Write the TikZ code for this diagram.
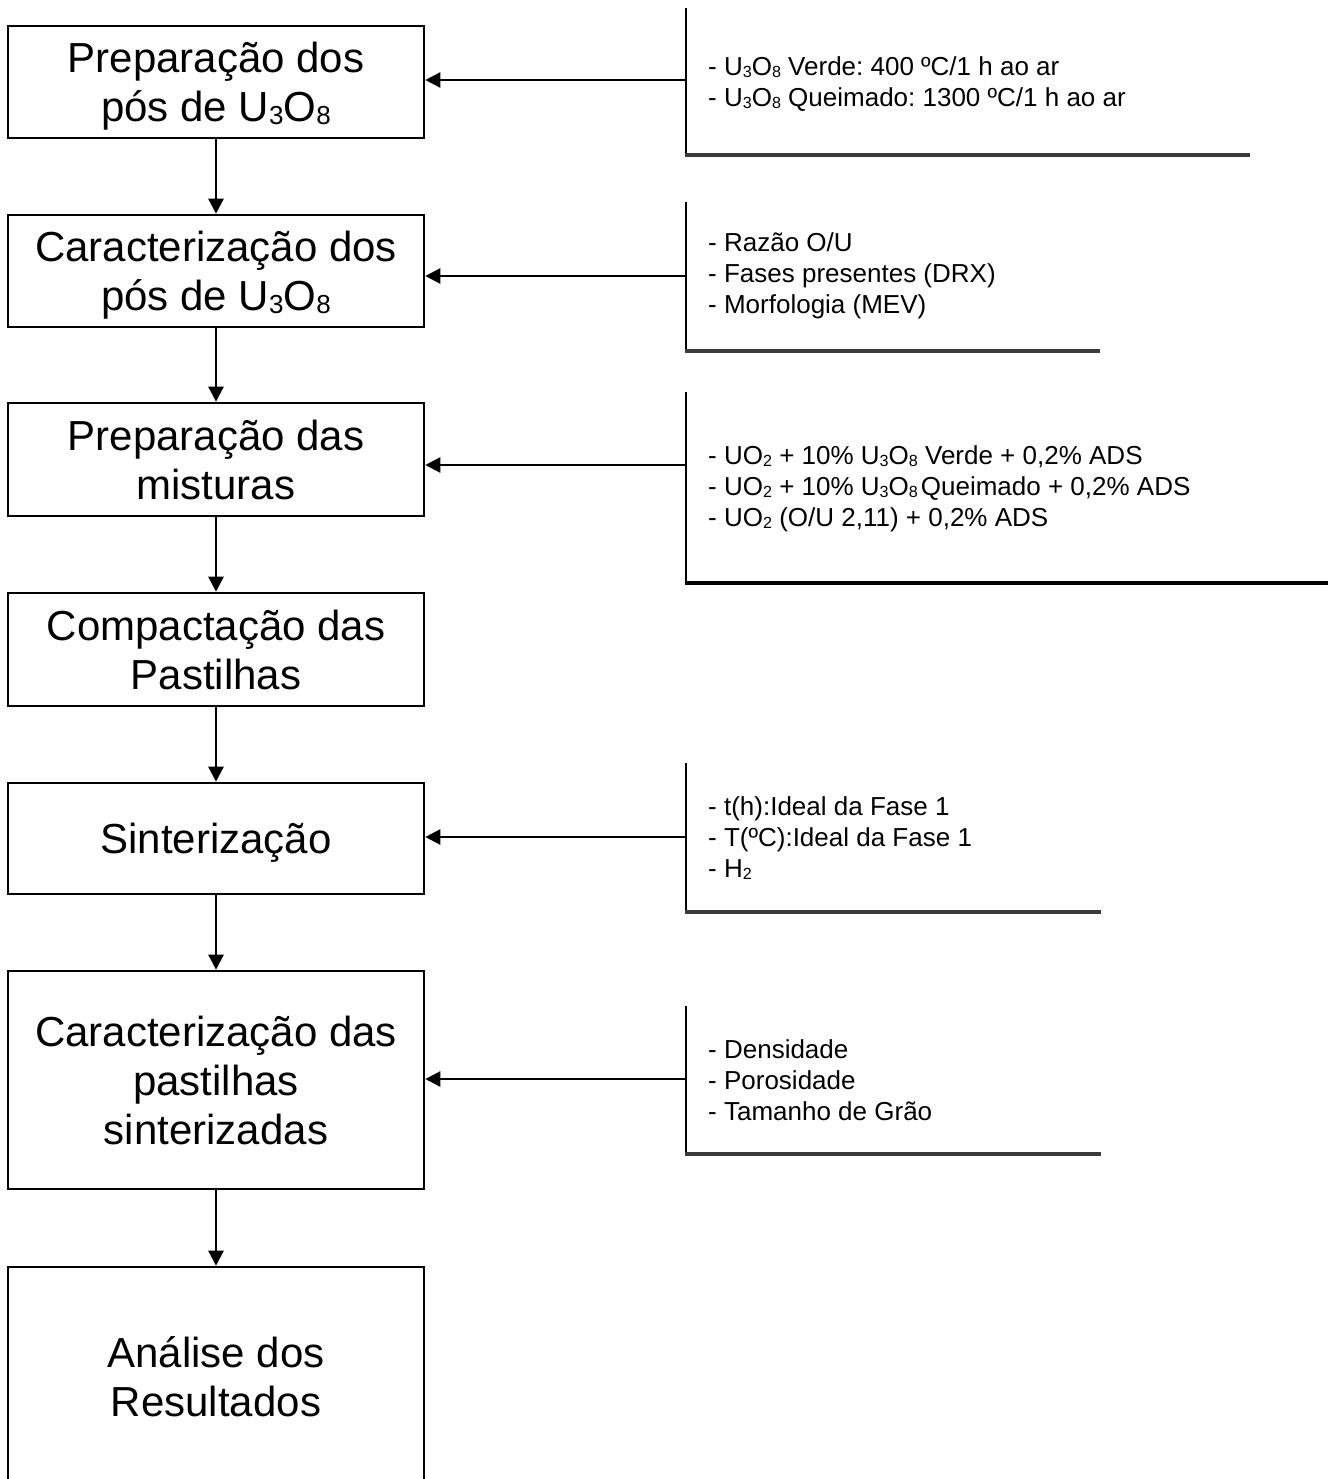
\documentclass[tikz,border=0pt]{standalone}
\usepackage{fontspec}
\setmainfont{Liberation Sans}
\usetikzlibrary{arrows.meta,positioning}
\frenchspacing
\definecolor{ink}{HTML}{000000}
\definecolor{rule}{HTML}{3A3A3A}
\tikzset{
  >={Triangle[length=15pt,width=15pt]},
  stage/.style={draw=ink, line width=2.6pt, minimum width=416pt, align=center,
    font=\fontsize{42}{49}\selectfont, inner sep=0pt, text=ink, text depth=0pt},
  note/.style={anchor=west, align=left, font=\fontsize{26}{31}\selectfont,
    inner sep=0pt, text=ink},
  arr/.style={->, draw=ink, line width=2.4pt},
  brk/.style={draw=ink, line width=2.8pt},
  base/.style={draw=rule, line width=3.4pt},
}
\newcommand{\lo}[1]{\raisebox{-0.12ex}{\scalebox{0.62}{#1}}}
\newcommand{\uo}{U\lo{3}O\lo{8}}
\begin{document}
\begin{tikzpicture}[x=1pt, y=-1pt]
  \useasboundingbox (0,0) rectangle (1336,1479);
  \clip (0,0) rectangle (1336,1479);
  % ===================== stages =====================
  \node[stage, minimum height=112pt] (prep) at (216,82) {Preparação dos\\pós de \uo};
  \node[stage, minimum height=112pt] (carac) at (216,271) {Caracterização dos\\pós de \uo};
  \node[stage, minimum height=113pt] (mist) at (216,459.5) {Preparação das\\misturas};
  \node[stage, minimum height=113pt] (comp) at (216,649.5) {Compactação das\\Pastilhas};
  \node[stage, minimum height=111pt] (sint) at (216,838.5) {Sinterização};
  \node[stage, minimum height=218pt] (caracp) at (216,1080) {Caracterização das\\pastilhas\\sinterizadas};
  \node[stage, minimum height=220pt] (anal) at (216,1377) {Análise dos\\Resultados};
  \foreach \a/\b in {prep/carac, carac/mist, mist/comp, comp/sint, sint/caracp, caracp/anal}
    \draw[arr] (\a) -- (\b);

  % ===================== side notes =====================
  % powders
  \draw[brk] (686,8) -- (686,155);
  \draw[base] (684.6,155) -- (1250,155);
  \node[note] (n1) at (708,84) {- \uo{} Verde: 400 ºC/1 h ao ar\\- \uo{} Queimado: 1300 ºC/1 h ao ar};
  \coordinate (c1) at (686,80);
  \draw[arr] (c1) -- (c1 -| prep.east);
  % characterisation
  \draw[brk] (686,202) -- (686,351);
  \draw[base] (684.6,351) -- (1100,351);
  \node[note] (n2) at (708,276) {- Razão O/U\\- Fases presentes (DRX)\\- Morfologia (MEV)};
  \coordinate (c2) at (686,276);
  \draw[arr] (c2) -- (c2 -| carac.east);
  % mixtures
  \draw[brk] (686,392) -- (686,583);
  \draw[brk, line width=3.4pt] (684.6,583) -- (1328,583);
  \node[note] (n3) at (708,489) {- UO\lo{2} + 10\% \uo{} Verde + 0,2\% ADS\\- UO\lo{2} + 10\% \uo\kern3pt Queimado + 0,2\% ADS\\- UO\lo{2} (O/U 2,11) + 0,2\% ADS};
  \coordinate (c3) at (686,465);
  \draw[arr] (c3) -- (c3 -| mist.east);
  % sintering
  \draw[brk] (686,763) -- (686,912);
  \draw[base] (684.6,912) -- (1101,912);
  \node[note] (n5) at (708,838) {- t(h):Ideal da Fase 1\\- T(ºC):Ideal da Fase 1\\- H\lo{2}};
  \coordinate (c5) at (686,837);
  \draw[arr] (c5) -- (c5 -| sint.east);
  % pellets
  \draw[brk] (686,1006) -- (686,1154);
  \draw[base] (684.6,1154) -- (1101,1154);
  \node[note] (n6) at (708,1080) {- Densidade\\- Porosidade\\- Tamanho de Grão};
  \coordinate (c6) at (686,1079);
  \draw[arr] (c6) -- (c6 -| caracp.east);
\end{tikzpicture}
\end{document}
